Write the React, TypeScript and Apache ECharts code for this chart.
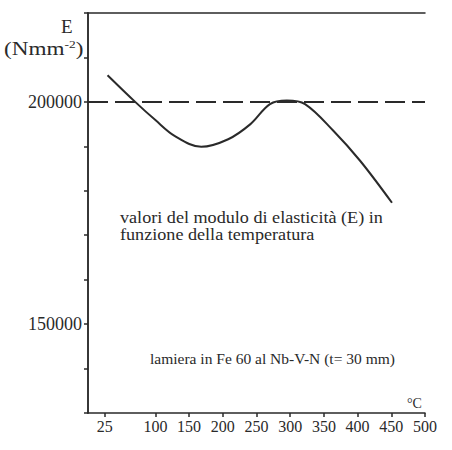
import React, { useEffect, useRef } from "react";
import * as echarts from "echarts";

const temps = [29, 70, 100, 129, 168, 208, 241, 270, 295, 322, 364, 404, 451];
const moduli = [206000, 200000, 195900, 192300, 189900, 191600, 195000, 199500, 200300, 199500, 193500, 186700, 177300];
const xTickValues = [25, 100, 150, 200, 250, 300, 350, 400, 450, 500];
const yLabelValues = [150000, 200000];
const referenceValue = 200000;
const titleText = "valori del modulo di elasticità (E) in\nfunzione della temperatura";
const noteText = "lamiera in Fe 60 al Nb-V-N (t= 30 mm)";

const FONT = "Liberation Serif";
const INK = "#2a2a2a";

export default function App() {
  const ref = useRef<HTMLDivElement>(null);
  useEffect(() => {
    if (!ref.current) return;
    const chart = echarts.init(ref.current, undefined, { renderer: "svg" });
    const frameLine = { show: true, lineStyle: { color: INK, width: 1.5 } };
    chart.setOption({
      animation: false,
      backgroundColor: "#ffffff",
      grid: { left: 88, right: 27, top: 13, bottom: 37 },
      xAxis: [
        {
          type: "value",
          min: 0,
          max: 500,
          axisLine: frameLine,
          axisTick: { show: true, customValues: xTickValues, length: 4, lineStyle: { color: INK, width: 1.5 } },
          axisLabel: { customValues: xTickValues, color: INK, fontFamily: FONT, fontSize: 16, margin: 5 },
          splitLine: { show: false },
        },
        {
          type: "value",
          position: "top",
          min: 0,
          max: 500,
          axisLine: frameLine,
          axisTick: { show: false },
          axisLabel: { show: false },
          splitLine: { show: false },
        },
      ],
      yAxis: [
        {
          type: "value",
          min: 130000,
          max: 220000,
          interval: 10000,
          axisLine: frameLine,
          axisTick: { show: true, length: 4, lineStyle: { color: INK, width: 1.5 } },
          axisLabel: {
            color: INK,
            fontFamily: FONT,
            fontSize: 18,
            margin: 6,
            formatter: (v: number) => (yLabelValues.includes(v) ? String(v) : ""),
          },
          splitLine: { show: false },
        },
        {
          type: "value",
          position: "right",
          min: 130000,
          max: 220000,
          interval: 10000,
          axisLine: frameLine,
          axisTick: { show: false },
          axisLabel: { show: false },
          splitLine: { show: false },
        },
      ],
      series: [
        {
          type: "line",
          data: temps.map((t, i) => [t, moduli[i]]),
          smooth: 0.35,
          symbol: "none",
          lineStyle: { color: INK, width: 2 },
          markLine: {
            silent: true,
            symbol: "none",
            label: { show: false },
            lineStyle: { color: INK, width: 2, type: [20, 7] },
            data: [{ yAxis: referenceValue }],
          },
        },
      ],
      graphic: [
        { type: "text", left: 61, top: 17, style: { text: "E", fontFamily: FONT, fontSize: 19, fill: INK } },
        {
          type: "text",
          x: 4,
          y: 39,
          scaleX: 1.22,
          style: {
            text: "(Nmm{sup|-2})",
            x: 0,
            y: 0,
            align: "left",
            verticalAlign: "top",
            textAlign: "left",
            textVerticalAlign: "top",
            fontFamily: FONT,
            fontSize: 19,
            fill: INK,
            rich: { sup: { fontSize: 11, fontFamily: FONT, fill: INK, padding: [0, 0, 9, 0] } },
          },
        },
        {
          type: "text",
          x: 120,
          y: 210,
          scaleX: 1.1,
          style: {
            text: titleText,
            x: 0,
            y: 0,
            align: "left",
            verticalAlign: "top",
            textAlign: "left",
            textVerticalAlign: "top",
            fontFamily: FONT,
            fontSize: 16.5,
            lineHeight: 16.5,
            fill: INK,
          },
        },
        { type: "text", left: 150, top: 350, style: { text: noteText, fontFamily: FONT, fontSize: 15.5, fill: INK } },
        { type: "text", left: 407, top: 396, style: { text: "°C", fontFamily: FONT, fontSize: 14, fill: INK } },
      ],
    });
    return () => chart.dispose();
  }, []);
  return <div ref={ref} style={{ position: "fixed", left: 0, top: 0, width: 452, height: 450 }} />;
}
